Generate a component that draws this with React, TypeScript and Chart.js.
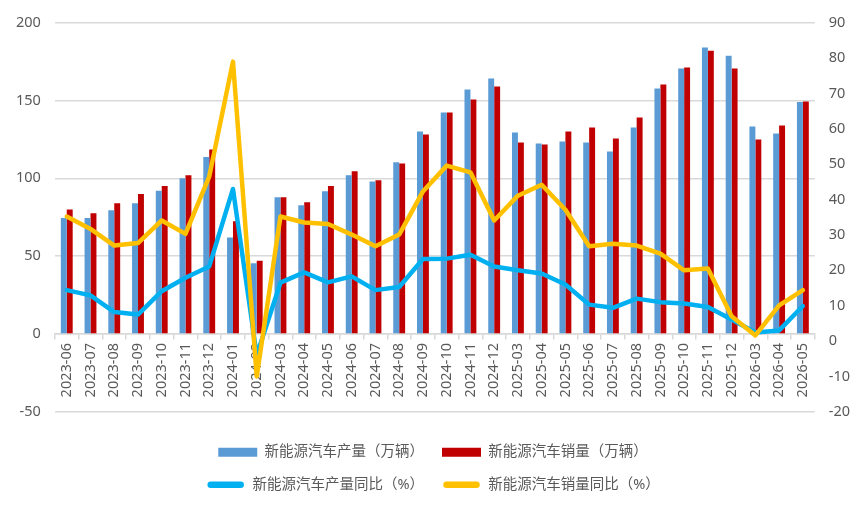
import React, { useEffect, useRef } from 'react';
import { Chart, registerables } from 'chart.js';

Chart.register(...registerables);

const categories = [
  '2023-06', '2023-07', '2023-08', '2023-09', '2023-10', '2023-11', '2023-12',
  '2024-01', '2024-02', '2024-03', '2024-04', '2024-05', '2024-06', '2024-07',
  '2024-08', '2024-09', '2024-10', '2024-11', '2024-12',
  '2025-03', '2025-04', '2025-05', '2025-06', '2025-07', '2025-08', '2025-09',
  '2025-10', '2025-11', '2025-12',
  '2026-03', '2026-04', '2026-05',
];

const productionVolume = [
  74.5, 74.5, 79.5, 84, 92, 100, 113.7,
  62, 45.5, 87.8, 82.7, 91.7, 102, 98,
  110.3, 130.1, 142.3, 157.1, 164.1,
  129.5, 122.4, 123.7, 123, 117.3, 132.7, 157.7,
  170.5, 184, 178.8,
  133.3, 128.8, 149,
];

const salesVolume = [
  80, 77.5, 84, 90, 95, 102, 118.6,
  72.4, 47, 87.8, 84.6, 95, 104.5, 98.7,
  109.6, 128.2, 142.3, 150.6, 159,
  123, 121.8, 130.1, 132.7, 125.6, 139.1, 160.3,
  171.2, 182, 170.5,
  125, 133.9, 149.4,
];

const productionYoY = [
  14.4, 12.9, 8.2, 7.5, 14.1, 17.9, 21.1,
  43.0, -4, 16.5, 19.4, 16.6, 18.3, 14.4,
  15.3, 23.2, 23.3, 24.4, 21.1,
  20.0, 19.1, 16.0, 10.3, 9.4, 12.0, 11.0,
  10.6, 9.6, 6.1,
  2.4, 3.0, 9.9,
];

const salesYoY = [
  35.2, 31.7, 27.0, 27.7, 34.1, 30.3, 46.5,
  79, -10, 35.2, 33.5, 33.1, 30.1, 26.8,
  30.1, 42.3, 49.6, 47.7, 34.1,
  41.1, 44.2, 37.1, 26.8, 27.5, 27.0, 24.7,
  20.0, 20.5, 7.0,
  1.6, 10.1, 14.4,
];

const seriesLabels = [
  '新能源汽车产量（万辆）',
  '新能源汽车销量（万辆）',
  '新能源汽车产量同比（%）',
  '新能源汽车销量同比（%）',
];

const FONT = '"Noto Sans", "Noto Sans CJK SC", sans-serif';
const TEXT = '#595959';
const GRID = '#d9d9d9';

const legendWrap = {
  id: 'legendWrap',
  beforeLayout(chart: any) {
    const lg = chart.legend;
    if (lg && !lg.__wrapped) {
      const orig = lg.update.bind(lg);
      lg.update = (mw: number, mh: number, margins: any) => orig(Math.min(mw, 520), mh, margins);
      lg.__wrapped = true;
    }
  },
};

export default function App() {
  const ref = useRef<HTMLCanvasElement>(null);

  useEffect(() => {
    const chart = new Chart(ref.current as HTMLCanvasElement, {
      type: 'bar',
      data: {
        labels: categories,
        datasets: [
          {
            type: 'bar',
            label: seriesLabels[0],
            data: productionVolume,
            backgroundColor: '#5b9bd5',
            borderWidth: 0,
            yAxisID: 'y',
            order: 3,
            categoryPercentage: 0.5,
            barPercentage: 1,
          },
          {
            type: 'bar',
            label: seriesLabels[1],
            data: salesVolume,
            backgroundColor: '#c00000',
            borderWidth: 0,
            yAxisID: 'y',
            order: 4,
            categoryPercentage: 0.5,
            barPercentage: 1,
          },
          {
            type: 'line',
            label: seriesLabels[2],
            data: productionYoY,
            borderColor: '#00b0f0',
            backgroundColor: '#00b0f0',
            borderWidth: 4.5,
            pointRadius: 0,
            tension: 0,
            fill: false,
            borderJoinStyle: 'round',
            borderCapStyle: 'round',
            yAxisID: 'y1',
            order: 2,
          },
          {
            type: 'line',
            label: seriesLabels[3],
            data: salesYoY,
            borderColor: '#ffc000',
            backgroundColor: '#ffc000',
            borderWidth: 4.5,
            pointRadius: 0,
            tension: 0,
            fill: false,
            borderJoinStyle: 'round',
            borderCapStyle: 'round',
            yAxisID: 'y1',
            order: 1,
          },
        ],
      } as any,
      options: {
        responsive: true,
        maintainAspectRatio: false,
        animation: false,
        events: [],
        layout: { padding: { left: 2, right: 2, top: 22, bottom: 9 } },
        plugins: {
          tooltip: { enabled: false },
          legend: {
            position: 'bottom',
            title: { display: true, text: '', padding: { top: 0, bottom: 14 }, font: { size: 1 } },
            labels: {
              boxWidth: 39,
              boxHeight: 9,
              padding: 18,
              color: TEXT,
              font: { family: FONT, size: 14.5 },
              generateLabels: (c: any) =>
                c.data.datasets.map((ds: any, i: number) => {
                  const isLine = ds.type === 'line';
                  return {
                    text: ds.label,
                    datasetIndex: i,
                    fillStyle: isLine ? ds.borderColor : ds.backgroundColor,
                    strokeStyle: isLine ? '#ffffff' : ds.backgroundColor,
                    lineWidth: isLine ? 2.5 : 0,
                    borderRadius: isLine ? 4.5 : 0,
                    hidden: !c.isDatasetVisible(i),
                    fontColor: TEXT,
                    lineCap: 'butt',
                    lineDash: [],
                    lineDashOffset: 0,
                    lineJoin: 'miter',
                  };
                }),
            },
          },
        },
        scales: {
          x: {
            type: 'category',
            position: { y: 0 } as any,
            offset: true,
            afterFit: (s: any) => {
              s.paddingLeft = 0;
              s.paddingRight = 0;
            },
            grid: {
              drawOnChartArea: false,
              drawTicks: true,
              tickLength: 5,
              color: GRID,
              lineWidth: 1.5,
              offset: true,
            },
            border: { display: true, color: GRID, width: 1.5 },
            ticks: {
              autoSkip: false,
              maxRotation: 90,
              minRotation: 90,
              padding: 4,
              color: TEXT,
              font: { family: FONT, size: 14.5 },
            },
          },
          y: {
            type: 'linear',
            position: 'left',
            min: -50,
            max: 200,
            ticks: { stepSize: 50, padding: 14, color: TEXT, font: { family: FONT, size: 14.5 } },
            grid: { color: GRID, lineWidth: 1.5, drawTicks: false },
            border: { display: false },
          },
          y1: {
            type: 'linear',
            position: 'right',
            min: -20,
            max: 90,
            ticks: { stepSize: 10, padding: 14, color: TEXT, font: { family: FONT, size: 14.5 } },
            grid: { drawOnChartArea: false, drawTicks: false },
            border: { display: false },
          },
        },
      } as any,
      plugins: [legendWrap],
    });
    return () => chart.destroy();
  }, []);

  return (
    <div style={{ position: 'fixed', left: 0, top: 0, width: 866, height: 511, background: '#ffffff' }}>
      <canvas ref={ref} />
    </div>
  );
}
